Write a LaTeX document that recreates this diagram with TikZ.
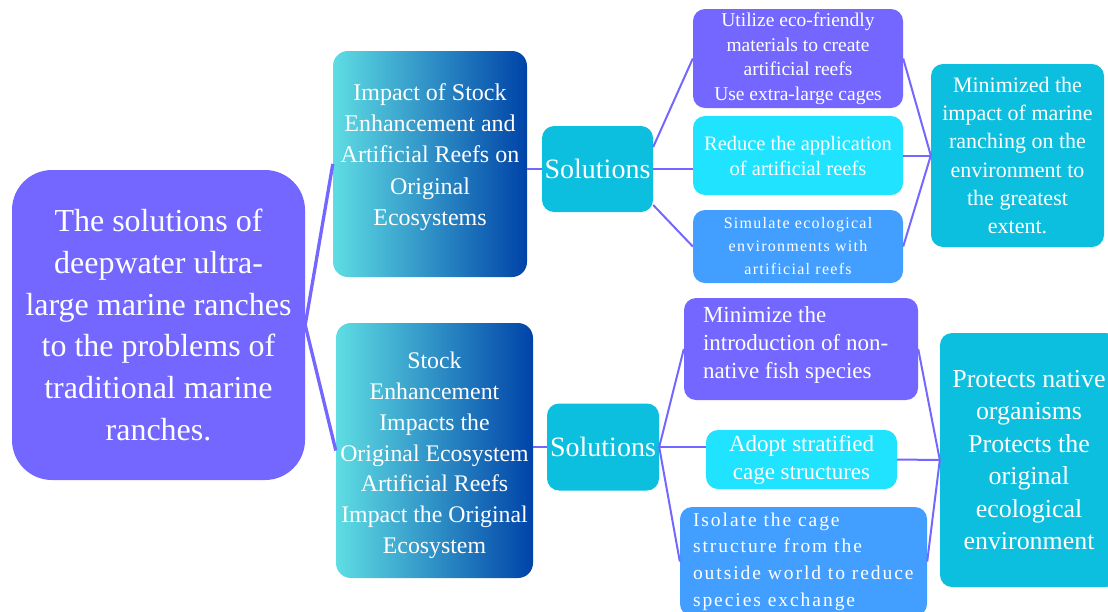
\documentclass[tikz,border=0pt]{standalone}
\usepackage{fontspec}
\setmainfont{Liberation Serif}
\usepackage{tikz}
\usetikzlibrary{positioning}
\definecolor{colorRoot}{HTML}{7367FF}
\definecolor{colorSolution}{HTML}{0CBFDF}
\definecolor{colorReef}{HTML}{1FE3FF}
\definecolor{colorSimulate}{HTML}{439FFF}
\definecolor{colorGradLeft}{HTML}{5EDDE3}
\definecolor{colorGradRight}{HTML}{0043A8}
\colorlet{colorBranch}{colorRoot}
\newcommand{\spaced}{\addfontfeature{LetterSpace=8}}
\newcommand{\wider}{\addfontfeature{LetterSpace=10}}

\begin{document}
\begin{tikzpicture}[x=1pt, y=-1pt, text=white,
  box/.style={rounded corners=12pt, inner sep=0pt, align=center},
  impactbox/.style={box, rounded corners=15pt, left color=colorGradLeft, right color=colorGradRight},
  trunk/.style={colorBranch, line width=3.3pt},
  branch/.style={colorBranch, line width=2pt}]
\useasboundingbox (0,0) rectangle (1108,611);
\node[box, fill=colorRoot, rounded corners=40pt, minimum width=293, minimum height=310, font=\fontsize{32}{41.8}\selectfont] (root) at (158.5,325) {The solutions of\\deepwater ultra-\\large marine ranches\\to the problems of\\traditional marine\\ranches.};
\node[impactbox, minimum width=194, minimum height=226] (impact1) at (430,164) {};
\node[align=center, font=\fontsize{24}{31.2}\selectfont] (impact1text) at ([yshift=7pt]impact1.center) {Impact of Stock\\Enhancement and\\Artificial Reefs on\\Original\\Ecosystems};
\node[impactbox, minimum width=197, minimum height=255] (impact2) at (434.5,450.5) {};
\node[align=center, font=\fontsize{23.8}{30.8}\selectfont] (impact2text) at ([yshift=-5pt]impact2.center) {Stock\\Enhancement\\Impacts the\\Original Ecosystem\\Artificial Reefs\\Impact the Original\\Ecosystem};
\node[box, fill=colorSolution, minimum width=111, minimum height=86, font=\fontsize{28}{34}\selectfont] (sol1) at (597.5,169) {Solutions};
\node[box, fill=colorSolution, minimum width=112, minimum height=87, font=\fontsize{28}{34}\selectfont] (sol2) at (603,447) {Solutions};
% upper branch
\node[box, fill=colorRoot, minimum width=210, minimum height=99, font=\fontsize{19.5}{24.5}\selectfont] (eco) at (798,58.5) {Utilize eco-friendly\\materials to create\\artificial reefs\\Use extra-large cages};
\node[box, fill=colorReef, minimum width=210, minimum height=79, font=\fontsize{20.5}{25}\selectfont] (reduce) at (798,155.5) {Reduce the application\\of artificial reefs};
\node[box, fill=colorSimulate, minimum width=210, minimum height=73, font=\fontsize{16}{23}\selectfont\spaced] (simulate) at (798,246.5) {Simulate ecological\\environments with\\artificial reefs};
\node[box, fill=colorSolution, minimum width=173, minimum height=183, font=\fontsize{22}{28.3}\selectfont] (minimized) at (1017.5,155.5) {Minimized the\\impact of marine\\ranching on the\\environment to\\the greatest\\extent.};
% lower branch
\node[box, fill=colorRoot, minimum width=234, minimum height=102] (nonnative) at (801,349) {};
\node[align=left, inner sep=0pt, anchor=west, font=\fontsize{23}{28.3}\selectfont] (nonnativetext) at ([xshift=19pt,yshift=4pt]nonnative.west) {Minimize the\\introduction of non-\\native fish species};
\node[box, fill=colorReef, minimum width=191, minimum height=59, font=\fontsize{23}{28}\selectfont] (stratified) at (801.5,459.5) {Adopt stratified\\cage structures};
\node[box, fill=colorSimulate, minimum width=247, minimum height=109] (isolate) at (803.5,561.5) {};
\node[align=left, inner sep=0pt, anchor=west, font=\fontsize{19.5}{26.7}\selectfont\wider] (isolatetext) at ([xshift=13pt]isolate.west) {Isolate the cage\\structure from the\\outside world to reduce\\species exchange};
\node[box, fill=colorSolution, minimum width=178, minimum height=254, font=\fontsize{25.9}{32.5}\selectfont] (protects) at (1029,460) {Protects native\\organisms\\Protects the\\original\\ecological\\environment};
\draw[trunk] (root.east) -- (impact1.west);
\draw[trunk] (root.east) -- (impact2.west);
\draw[branch] (impact1.east |- sol1.west) -- (sol1.west);
\draw[branch] ([yshift=22pt]sol1.east) -- (eco.west);
\draw[branch] (sol1.east) -- (sol1.east -| reduce.west);
\draw[branch] ([yshift=-36pt]sol1.east) -- (simulate.west);
\draw[branch] (eco.east) -- (minimized.west);
\draw[branch] (reduce.east) -- (minimized.west);
\draw[branch] (simulate.east) -- (minimized.west);
\draw[branch] (impact2.east |- sol2.west) -- (sol2.west);
\draw[branch] (sol2.east) -- (nonnative.west);
\draw[branch] (sol2.east) -- (sol2.east -| stratified.west);
\draw[branch] (sol2.east) -- (isolate.west);
\draw[branch] (nonnative.east) -- (protects.west);
\draw[branch] (stratified.east) -- (protects.west);
\draw[branch] (isolate.east) -- (protects.west);
\end{tikzpicture}
\end{document}
